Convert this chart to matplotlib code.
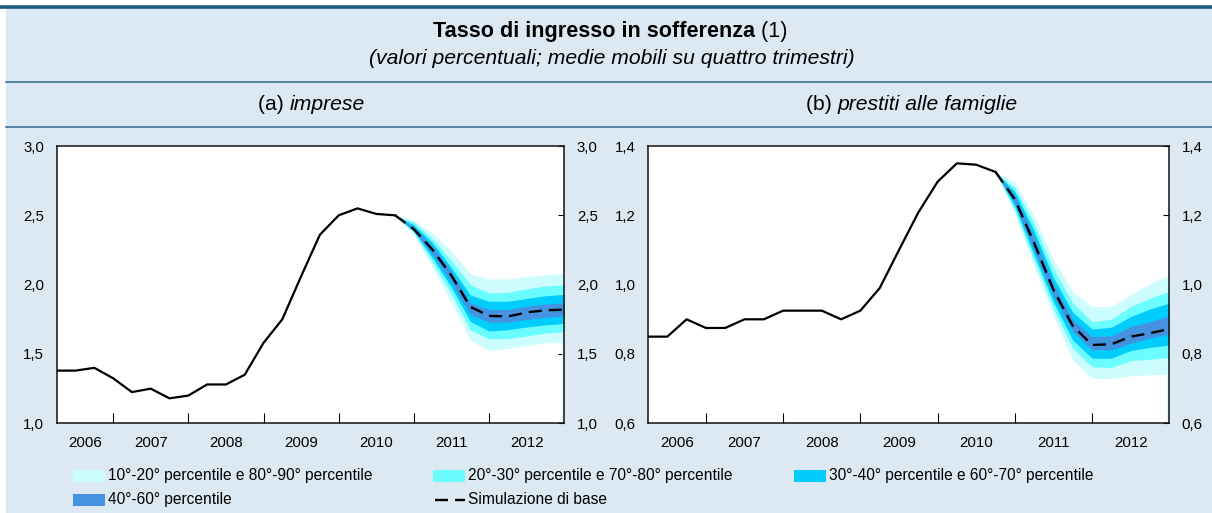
import matplotlib
matplotlib.use("Agg")
import matplotlib.pyplot as plt
from matplotlib.patches import Rectangle
from matplotlib.lines import Line2D
import numpy as np

plt.rcParams['font.family'] = ['Liberation Sans', 'DejaVu Sans']

# ---------------- data ----------------
# quarterly observations 2006Q1 .. 2012Q4 (plotted at quarter end)
quarters = [f"{y}Q{q}" for y in range(2006, 2013) for q in range(1, 5)]
n_hist = 19  # 2006Q1 .. 2010Q3 observed

hist_a = [1.38, 1.38, 1.40, 1.325, 1.225, 1.25, 1.18, 1.20, 1.28, 1.28,
          1.35, 1.58, 1.75, 2.06, 2.36, 2.50, 2.55, 2.51, 2.50]
hist_b = [0.85, 0.85, 0.90, 0.875, 0.875, 0.90, 0.90, 0.925, 0.925, 0.925,
          0.90, 0.925, 0.99, 1.10, 1.208, 1.297, 1.35, 1.346, 1.325]

# forecast fan 2010Q3 .. 2012Q4
base_a = [2.50, 2.40, 2.25, 2.065, 1.84, 1.775, 1.77, 1.80, 1.815, 1.82]
p10_a = [2.50, 2.36, 2.12, 1.87, 1.60, 1.525, 1.54, 1.56, 1.58, 1.585]
p20_a = [2.50, 2.375, 2.16, 1.93, 1.675, 1.61, 1.61, 1.63, 1.65, 1.66]
p30_a = [2.50, 2.385, 2.19, 1.98, 1.735, 1.665, 1.675, 1.695, 1.71, 1.72]
p40_a = [2.50, 2.39, 2.22, 2.02, 1.785, 1.73, 1.73, 1.75, 1.765, 1.775]
p60_a = [2.50, 2.415, 2.275, 2.09, 1.87, 1.82, 1.82, 1.845, 1.86, 1.87]
p70_a = [2.50, 2.43, 2.30, 2.12, 1.925, 1.88, 1.88, 1.90, 1.92, 1.93]
p80_a = [2.50, 2.45, 2.33, 2.17, 2.00, 1.94, 1.945, 1.97, 1.99, 2.00]
p90_a = [2.50, 2.465, 2.37, 2.24, 2.08, 2.04, 2.04, 2.06, 2.07, 2.08]

base_b = [1.325, 1.246, 1.12, 0.985, 0.881, 0.826, 0.828, 0.85, 0.86, 0.872]
p10_b = [1.325, 1.203, 1.053, 0.908, 0.783, 0.730, 0.730, 0.737, 0.740, 0.742]
p20_b = [1.325, 1.215, 1.07, 0.93, 0.816, 0.763, 0.761, 0.781, 0.785, 0.79]
p30_b = [1.325, 1.225, 1.085, 0.95, 0.84, 0.788, 0.788, 0.81, 0.819, 0.826]
p40_b = [1.325, 1.235, 1.10, 0.968, 0.865, 0.812, 0.812, 0.831, 0.846, 0.858]
p60_b = [1.325, 1.257, 1.137, 1.00, 0.899, 0.85, 0.852, 0.879, 0.893, 0.91]
p70_b = [1.325, 1.268, 1.155, 1.02, 0.92, 0.872, 0.877, 0.908, 0.93, 0.947]
p80_b = [1.325, 1.28, 1.175, 1.045, 0.947, 0.893, 0.90, 0.937, 0.961, 0.981]
p90_b = [1.325, 1.296, 1.198, 1.072, 0.981, 0.937, 0.937, 0.971, 1.003, 1.027]

years = [2006, 2007, 2008, 2009, 2010, 2011, 2012]

title = ("Tasso di ingresso in sofferenza", " (1)")
subtitle = "(valori percentuali; medie mobili su quattro trimestri)"
panel_a = ("(a) ", "imprese")
panel_b = ("(b) ", "prestiti alle famiglie")
legend_labels = ["10°-20° percentile e 80°-90° percentile",
                 "20°-30° percentile e 70°-80° percentile",
                 "30°-40° percentile e 60°-70° percentile",
                 "40°-60° percentile",
                 "Simulazione di base"]

# ---------------- style ----------------
band_colors = ["#ccfcfe", "#6afcfe", "#00cdfb", "#4592e0"]
bg = "#dde9f2"
rule = "#2f6688"

W, H = 1212, 513
fig = plt.figure(figsize=(W / 100, H / 100), dpi=100, facecolor="white")


def px(x0, y0, x1, y1):
    return [x0 / W, 1 - y1 / H, (x1 - x0) / W, (y1 - y0) / H]


# background panel
bgax = fig.add_axes([0, 0, 1, 1], zorder=-10)
bgax.set_xlim(0, W)
bgax.set_ylim(H, 0)
bgax.axis("off")
bgax.add_patch(Rectangle((6, 8), W - 6, H - 8, facecolor=bg, edgecolor="none"))
bgax.plot([0, W], [7, 7], color="#1b5a80", lw=2.6, solid_capstyle="butt")
bgax.plot([6, W], [81.5, 81.5], color=rule, lw=1.1)
bgax.plot([6, W], [126.5, 126.5], color=rule, lw=1.1)

renderer = fig.canvas.get_renderer()


def mixed(parts, xc, y):
    """parts: list of (text, kwargs); centred horizontally on xc."""
    objs = [bgax.text(0, y, t, va="center", ha="left", **kw) for t, kw in parts]
    widths = [o.get_window_extent(renderer).width for o in objs]
    x = xc - sum(widths) / 2
    for o, w in zip(objs, widths):
        o.set_x(x)
        x += w


mixed([(title[0], dict(fontsize=15.6, fontweight="bold")),
       (title[1], dict(fontsize=15.6))], 610, 31)
bgax.text(612, 59, subtitle, ha="center", va="center", fontsize=15.2, style="italic")


def pos(q):
    y, qq = int(q[:4]), int(q[-1])
    return y + qq * 0.25


x_all = np.array([pos(q) for q in quarters])
x_hist = x_all[:n_hist]
x_fc = x_all[n_hist - 1:]


def draw(ax, hist, base, bands, ylim, yticks):
    ax.set_facecolor("white")
    for (lo, hi), c in zip(bands, band_colors):
        ax.fill_between(x_fc, lo, hi, color=c, lw=0, zorder=2)
    # thin rendering sliver at the right edge below the fan
    ax.plot([x_fc[-1] - 0.012, x_fc[-1] - 0.012], [ylim[0], bands[0][0][-1]],
            color=band_colors[0], lw=1.2, zorder=2)
    ax.plot(x_hist, hist, color="black", lw=1.6, zorder=4)
    ax.plot(x_fc, base, color="black", lw=1.7, dashes=(5.5, 3), zorder=5)
    ax.set_xlim(x_all[0], x_all[-1])
    ax.set_ylim(*ylim)
    ax.set_yticks(yticks)
    ax.set_yticklabels([f"{v:.1f}".replace(".", ",") for v in yticks])
    ax.tick_params(axis="y", which="both", left=False, right=True, labelleft=True,
                   labelright=True, direction="in", length=4, width=0.8,
                   labelsize=10.8, pad=9)
    ax.set_xticks(years[1:])
    ax.set_xticklabels([])
    mids = [(max(y, x_all[0]) + y + 1) / 2 for y in years]
    ax.set_xticks(mids, minor=True)
    ax.set_xticklabels([str(y) for y in years], minor=True)
    ax.tick_params(axis="x", which="major", direction="in", length=7, width=0.8)
    ax.tick_params(axis="x", which="minor", length=0, labelsize=10.8, pad=9)
    for s in ax.spines.values():
        s.set_linewidth(1.1)
        s.set_color("#111111")


ax1 = fig.add_axes(px(56.7, 146, 564.3, 423.3))
draw(ax1, hist_a, base_a,
     [(p10_a, p90_a), (p20_a, p80_a), (p30_a, p70_a), (p40_a, p60_a)],
     (1.0, 3.0), [1.0, 1.5, 2.0, 2.5, 3.0])
ax2 = fig.add_axes(px(648, 146, 1169.3, 423.3))
draw(ax2, hist_b, base_b,
     [(p10_b, p90_b), (p20_b, p80_b), (p30_b, p70_b), (p40_b, p60_b)],
     (0.6, 1.4), [0.6, 0.8, 1.0, 1.2, 1.4])

# panel titles
for (a, b), xc in [(panel_a, 311), (panel_b, 912)]:
    mixed([(a, dict(fontsize=15.2)), (b, dict(fontsize=15.2, style="italic"))], xc, 104)

# legend (manual)
cols = [73, 433, 794]
rows = [475.5, 499.5]
entries = [(0, 0), (0, 1), (0, 2), (1, 0), (1, 1)]
for i, (r_, c_) in enumerate(entries):
    x0 = cols[c_]
    y0 = rows[r_]
    if i < 4:
        bgax.add_patch(Rectangle((x0, y0 - 6), 32, 12, facecolor=band_colors[i],
                                 edgecolor="none"))
    else:
        bgax.add_line(Line2D([x0 + 2, x0 + 32], [y0, y0], color="black", lw=1.7,
                             dashes=(5.5, 3)))
    bgax.text(x0 + 35, y0, legend_labels[i], ha="left", va="center", fontsize=11.2)

fig.savefig("out.png", dpi=100, facecolor="white")
